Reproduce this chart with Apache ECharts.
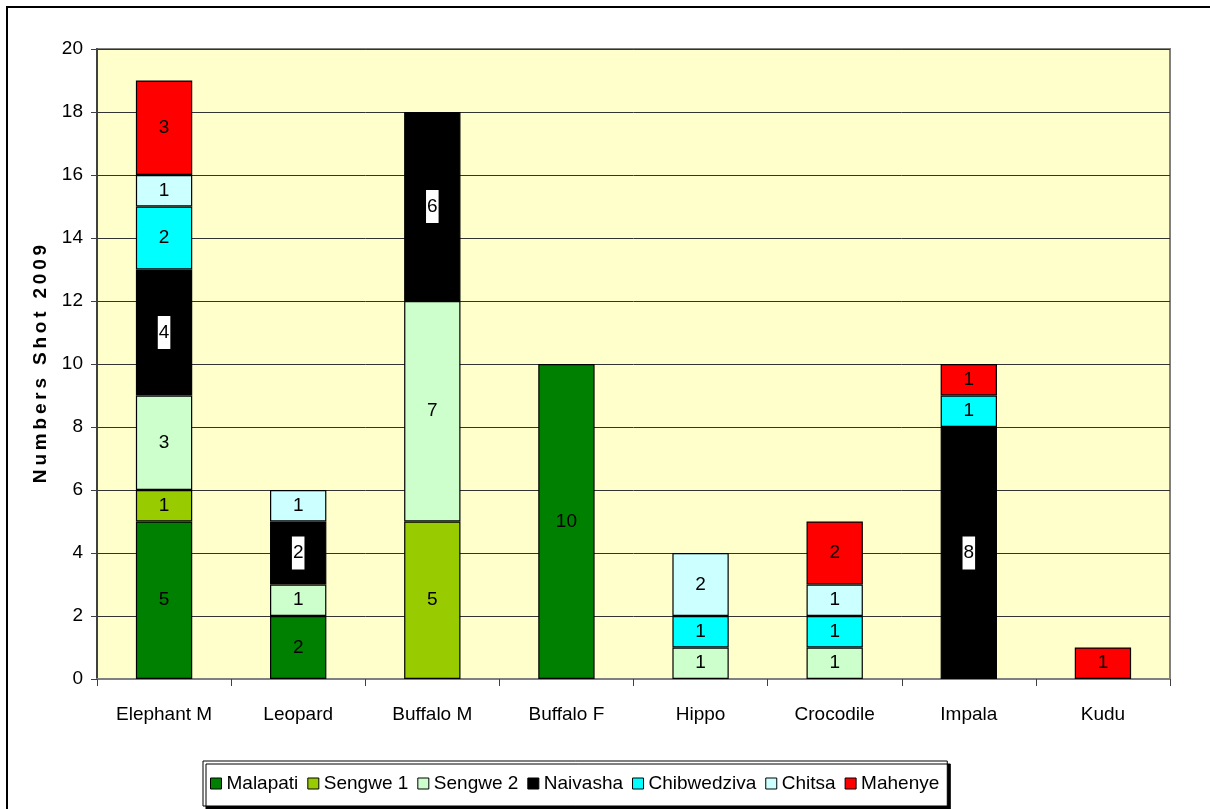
<!DOCTYPE html>
<html>
<head>
<meta charset="utf-8">
<script src="https://cdn.jsdelivr.net/npm/echarts@6/dist/echarts.min.js"></script>
<style>
  html, body { margin: 0; padding: 0; background: #ffffff; }
  #chart { width: 1210px; height: 809px; }
</style>
</head>
<body>
<div id="chart"></div>
<script>
// Animals shot in 2009, stacked by hunting area
const categories = ['Elephant M', 'Leopard', 'Buffalo M', 'Buffalo F', 'Hippo', 'Crocodile', 'Impala', 'Kudu'];

const malapati    = [5,    2,    null, 10,   null, null, null, null];
const sengwe1     = [1,    null, 5,    null, null, null, null, null];
const sengwe2     = [3,    1,    7,    null, 1,    1,    null, null];
const naivasha    = [4,    2,    6,    null, null, null, 8,    null];
const chibwedziva = [2,    null, null, null, 1,    1,    1,    null];
const chitsa      = [1,    1,    null, null, 2,    1,    null, null];
const mahenye     = [3,    null, null, null, null, 2,    1,    1];

const yTicks = { min: 0, max: 20, step: 2 };

const SANS = "'Liberation Sans', Arial, sans-serif";

// spread the letters of the axis title apart
function spaced(text) {
  return text.split(' ').map(w => w.split('').join('\u2009')).join('\u2009 \u2009');
}

function areaSeries(name, data, color, labelExtra) {
  return {
    name: name,
    type: 'bar',
    stack: 'total',
    barWidth: '42%',
    data: data,
    itemStyle: { color: color, borderColor: '#000000', borderWidth: 1.2 },
    label: Object.assign({
      show: true,
      position: 'inside',
      color: '#000000',
      fontFamily: SANS,
      fontSize: 19,
      formatter: function (p) { return p.value == null ? '' : String(p.value); }
    }, labelExtra || {}),
    emphasis: { disabled: true }
  };
}

const chart = echarts.init(document.getElementById('chart'), null, { renderer: 'canvas' });

chart.setOption({
  animation: false,
  backgroundColor: '#ffffff',
  grid: {
    left: 97, top: 49, right: 40, bottom: 130,
    show: true,
    backgroundColor: '#FFFFCC',
    borderColor: '#808080',
    borderWidth: 2
  },
  xAxis: {
    type: 'category',
    data: categories,
    axisLine: { show: true, lineStyle: { color: '#808080', width: 2 } },
    axisTick: { show: true, length: 7, lineStyle: { color: '#404040', width: 1 } },
    axisLabel: { color: '#000000', fontFamily: SANS, fontSize: 19, margin: 26, interval: 0 },
    splitLine: { show: false }
  },
  yAxis: {
    type: 'value',
    min: yTicks.min,
    max: yTicks.max,
    interval: yTicks.step,
    name: spaced('Numbers Shot 2009'),
    nameLocation: 'middle',
    nameGap: 47,
    nameRotate: 90,
    nameTextStyle: { color: '#000000', fontFamily: SANS, fontWeight: 'bold', fontSize: 19 },
    axisLine: { show: true, lineStyle: { color: '#404040', width: 2 } },
    axisTick: { show: true, length: 6, lineStyle: { color: '#404040', width: 1 } },
    axisLabel: { color: '#000000', fontFamily: SANS, fontSize: 19, margin: 14 },
    splitLine: { show: true, lineStyle: { color: '#333333', width: 1 } }
  },
  legend: {
    left: 203,
    top: 761,
    orient: 'horizontal',
    icon: 'rect',
    itemWidth: 11,
    itemHeight: 11,
    itemGap: 9,
    padding: [13, 8, 13, 7],
    backgroundColor: '#ffffff',
    borderColor: '#000000',
    borderWidth: 1,
    shadowColor: '#000000',
    shadowBlur: 0,
    shadowOffsetX: 3,
    shadowOffsetY: 3,
    itemStyle: { borderColor: '#000000', borderWidth: 1 },
    textStyle: { color: '#000000', fontFamily: SANS, fontSize: 19 },
    selectedMode: false
  },
  graphic: [{
    type: 'rect',
    z: 100,
    silent: true,
    shape: { x: 7, y: 7, width: 1260, height: 860 },
    style: { fill: 'none', stroke: '#000000', lineWidth: 2 }
  }],
  series: [
    areaSeries('Malapati', malapati, '#008000'),
    areaSeries('Sengwe 1', sengwe1, '#99CC00'),
    areaSeries('Sengwe 2', sengwe2, '#CCFFCC'),
    areaSeries('Naivasha', naivasha, '#000000', { backgroundColor: '#ffffff', padding: [7, 1] }),
    areaSeries('Chibwedziva', chibwedziva, '#00FFFF'),
    areaSeries('Chitsa', chitsa, '#CCFFFF'),
    areaSeries('Mahenye', mahenye, '#FF0000')
  ]
});
</script>
</body>
</html>
